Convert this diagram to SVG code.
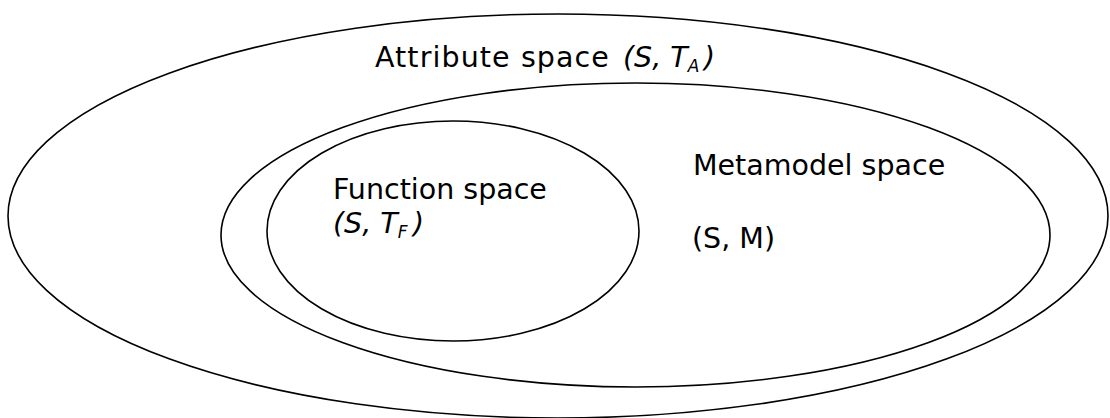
<svg xmlns="http://www.w3.org/2000/svg" width="1110" height="418" viewBox="0 0 1110 418">
  <style>
    .space { fill: none; stroke: #000; stroke-width: 1.6; }
    .lbl { font-family: "DejaVu Sans", "Liberation Sans", sans-serif; font-size: 28.5px; fill: #000; }
    .it { font-style: italic; }
    .sub { font-size: 17px; font-style: italic; }
  </style>
  <rect width="1110" height="418" fill="#fff"/>
  <g id="attribute-space">
    <ellipse class="space" cx="558" cy="216" rx="550" ry="202"/>
    <text class="lbl" x="375" y="67"><tspan letter-spacing="1.1">Attribute space</tspan> <tspan class="it" x="623">(S, T</tspan><tspan class="sub" dy="5">A</tspan><tspan class="it" dy="-5" x="704">)</tspan></text>
  </g>
  <g id="metamodel-space">
    <ellipse class="space" cx="635.5" cy="235" rx="414.5" ry="152"/>
    <text class="lbl" x="693" y="175">Metamodel space</text>
    <text class="lbl" x="692" y="248">(S, M)</text>
  </g>
  <g id="function-space">
    <ellipse class="space" cx="453" cy="231" rx="186" ry="110"/>
    <text class="lbl" x="333" y="199">Function space</text>
    <text class="lbl" x="333" y="233"><tspan class="it">(S, T</tspan><tspan class="sub" dy="5">F</tspan><tspan class="it" dy="-5" x="413">)</tspan></text>
  </g>
  <g id="connectors"/>
</svg>
